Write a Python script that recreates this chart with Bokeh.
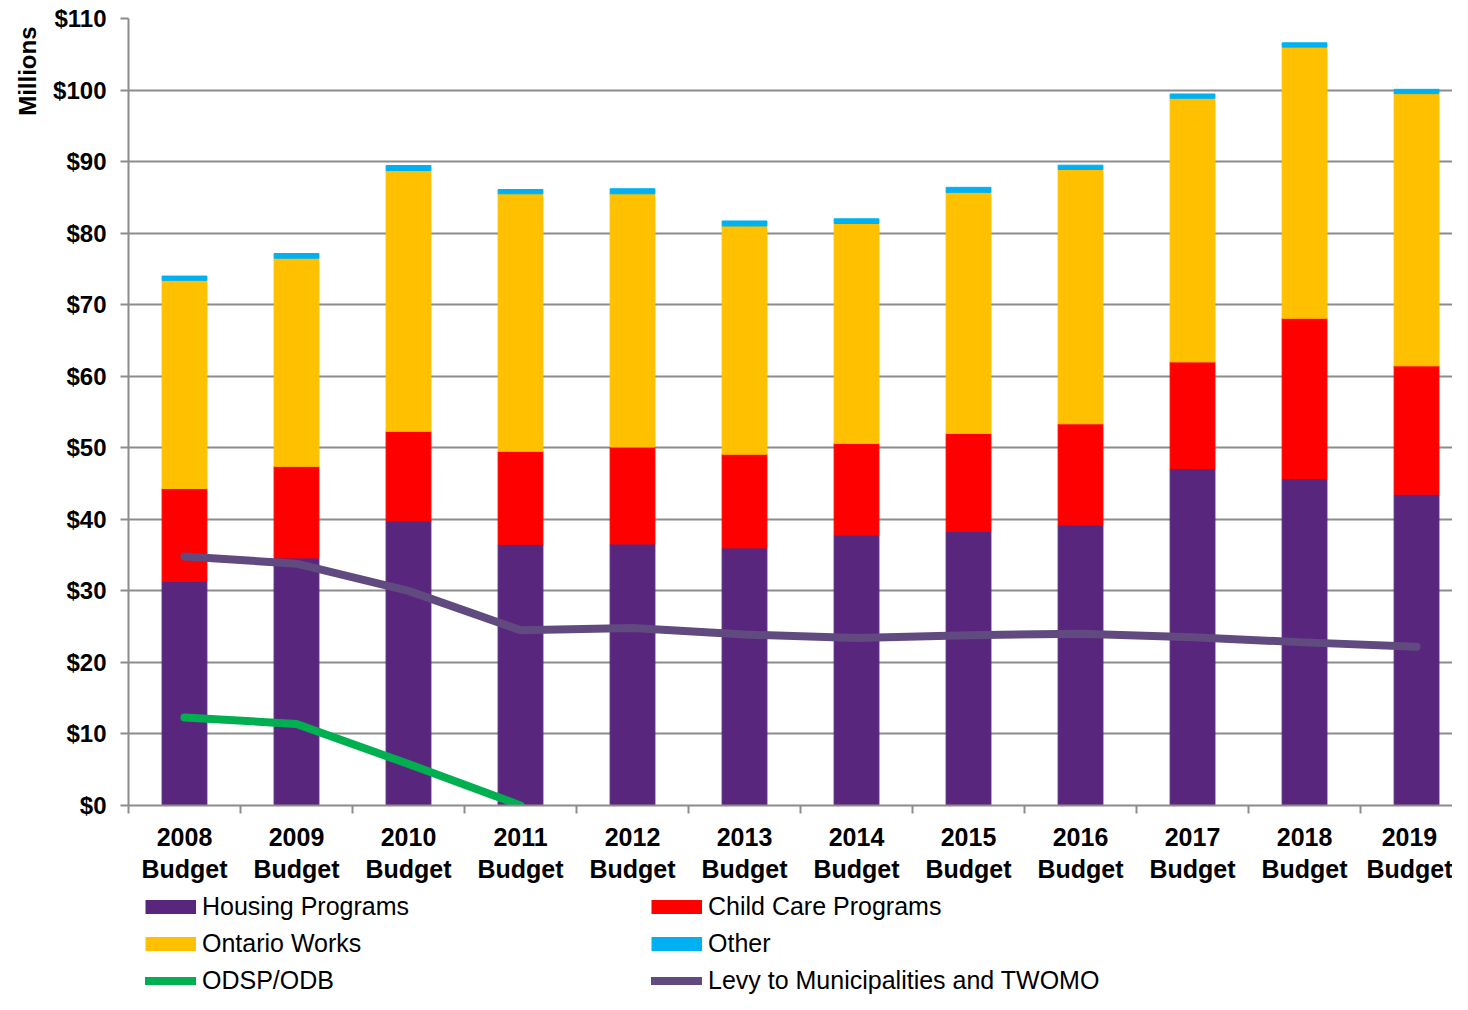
from bokeh.plotting import figure
from bokeh.layouts import column
from bokeh.models import Range1d, FixedTicker, Legend, LegendItem, Title, ColumnDataSource
from bokeh.embed import file_html
from bokeh.resources import INLINE

categories = ["2008 Budget", "2009 Budget", "2010 Budget", "2011 Budget", "2012 Budget",
              "2013 Budget", "2014 Budget", "2015 Budget", "2016 Budget", "2017 Budget",
              "2018 Budget", "2019 Budget"]
housing = [31.35, 34.6, 39.75, 36.5, 36.55, 36.0, 37.8, 38.3, 39.2, 47.1, 45.7, 43.5]
child_care = [12.95, 12.8, 12.55, 13.0, 13.55, 13.1, 12.8, 13.7, 14.15, 14.9, 22.4, 17.95]
ontario_works = [29.1, 29.1, 36.45, 36.0, 35.4, 31.9, 30.75, 33.7, 35.55, 36.85, 37.9, 38.05]
other = [0.6, 0.65, 0.7, 0.6, 0.7, 0.7, 0.65, 0.7, 0.6, 0.6, 0.6, 0.6]
odsp = [12.3, 11.4, 5.8, 0.0]
levy = [34.8, 33.8, 30.0, 24.5, 24.8, 23.9, 23.4, 23.8, 24.0, 23.5, 22.8, 22.2]
y_ticks = [0, 10, 20, 30, 40, 50, 60, 70, 80, 90, 100, 110]
y_tick_labels = ["$0", "$10", "$20", "$30", "$40", "$50", "$60", "$70", "$80", "$90", "$100", "$110"]
series_names = ["Housing Programs", "Child Care Programs", "Ontario Works", "Other"]

FONT = "Liberation Sans"
GRID = "#8c8c8c"
C_HOUSING = "#58277d"
C_CHILD = "#ff0000"
C_OW = "#ffc000"
C_OTHER = "#00b0f0"
C_ODSP = "#00b050"
C_LEVY = "#604a7f"

W = 1452
H_MAIN = 885
H_LEG = 109
LEFT = 128

xs = list(range(len(categories)))
src = ColumnDataSource(dict(x=xs, housing=housing, child=child_care, ow=ontario_works, other=other))

p = figure(width=W, height=H_MAIN, output_backend="svg", toolbar_location=None,
           x_range=Range1d(-0.5, 11.321), y_range=Range1d(0, 110))
p.min_border_left = LEFT
p.min_border_right = 0
p.min_border_top = 18
p.min_border_bottom = 80
p.outline_line_color = None

p.vbar_stack(["housing", "child", "ow", "other"], x="x", width=0.4,
             color=[C_HOUSING, C_CHILD, C_OW, C_OTHER], source=src)
p.line(xs, levy, line_color=C_LEVY, line_width=8, line_cap="round", line_join="round")
p.line(xs[:len(odsp)], odsp, line_color=C_ODSP, line_width=8, line_cap="round", line_join="round")

# grid
p.xgrid.visible = False
p.ygrid.ticker = FixedTicker(ticks=y_ticks)
p.ygrid.grid_line_color = GRID
p.ygrid.grid_line_width = 2

# y axis
ya = p.yaxis[0]
ya.ticker = FixedTicker(ticks=y_ticks)
ya.major_label_overrides = {t: l for t, l in zip(y_ticks, y_tick_labels)}
ya.axis_line_color = GRID
ya.axis_line_width = 2
ya.major_tick_line_color = GRID
ya.major_tick_line_width = 2
ya.major_tick_in = 0
ya.major_tick_out = 8
ya.minor_tick_line_color = None
ya.major_label_standoff = 14
ya.major_label_text_font = FONT
ya.major_label_text_font_size = "24px"
ya.major_label_text_font_style = "bold"
ya.major_label_text_color = "black"

# x axis
xa = p.xaxis[0]
xa.ticker = FixedTicker(ticks=xs, minor_ticks=[i - 0.5 for i in xs])
xa.major_label_overrides = {i: c.replace(" ", "\n") for i, c in zip(xs, categories)}
xa.axis_line_color = GRID
xa.axis_line_width = 2
xa.major_tick_line_color = None
xa.major_tick_in = 0
xa.major_tick_out = 0
xa.minor_tick_line_color = GRID
xa.minor_tick_line_width = 2
xa.minor_tick_in = 0
xa.minor_tick_out = 8
xa.major_label_standoff = 9
xa.major_label_text_font = FONT
xa.major_label_text_font_size = "25px"
xa.major_label_text_font_style = "bold"
xa.major_label_text_color = "black"
xa.major_label_text_line_height = 1.15

p.add_layout(Title(text="Millions", align="right", standoff=20, offset=8, text_font=FONT,
                   text_font_size="24px", text_font_style="bold", text_color="black"), "left")

# legend figure (frame aligned with the main plot's frame)
lf = figure(width=W, height=H_LEG, output_backend="svg", toolbar_location=None,
            x_range=Range1d(0, 1), y_range=Range1d(0, 1),
            x_axis_location=None, y_axis_location=None)
lf.min_border_left = LEFT
lf.min_border_right = 0
lf.min_border_top = 0
lf.min_border_bottom = 0
lf.outline_line_color = None
lf.xgrid.visible = False
lf.ygrid.visible = False

# off-screen proxy glyphs, used only for the legend swatches
px = [5, 6]
py = [5, 6]
proxies = [lf.line(px, py, line_color=c, line_width=14, line_cap="butt")
           for c in [C_HOUSING, C_CHILD, C_OW, C_OTHER]]
odsp_proxy = lf.line(px, py, line_color=C_ODSP, line_width=8, line_cap="round")
levy_proxy = lf.line(px, py, line_color=C_LEVY, line_width=8, line_cap="round")

items = [LegendItem(label=n, renderers=[r]) for n, r in zip(series_names, proxies)]
items.append(LegendItem(label="ODSP/ODB", renderers=[odsp_proxy]))
items.append(LegendItem(label="Levy to Municipalities and TWOMO", renderers=[levy_proxy]))
legend = Legend(items=items, ncols=2, orientation="horizontal", location=(17, -4.5),
                glyph_width=51, glyph_height=37, label_height=37, label_width=449,
                label_standoff=6, spacing=0, padding=0, margin=0,
                border_line_color=None, background_fill_alpha=0,
                label_text_font=FONT, label_text_font_size="25px", label_text_color="black")
lf.add_layout(legend, "center")

open("out.html", "w").write(file_html(column(p, lf, spacing=0), INLINE))
